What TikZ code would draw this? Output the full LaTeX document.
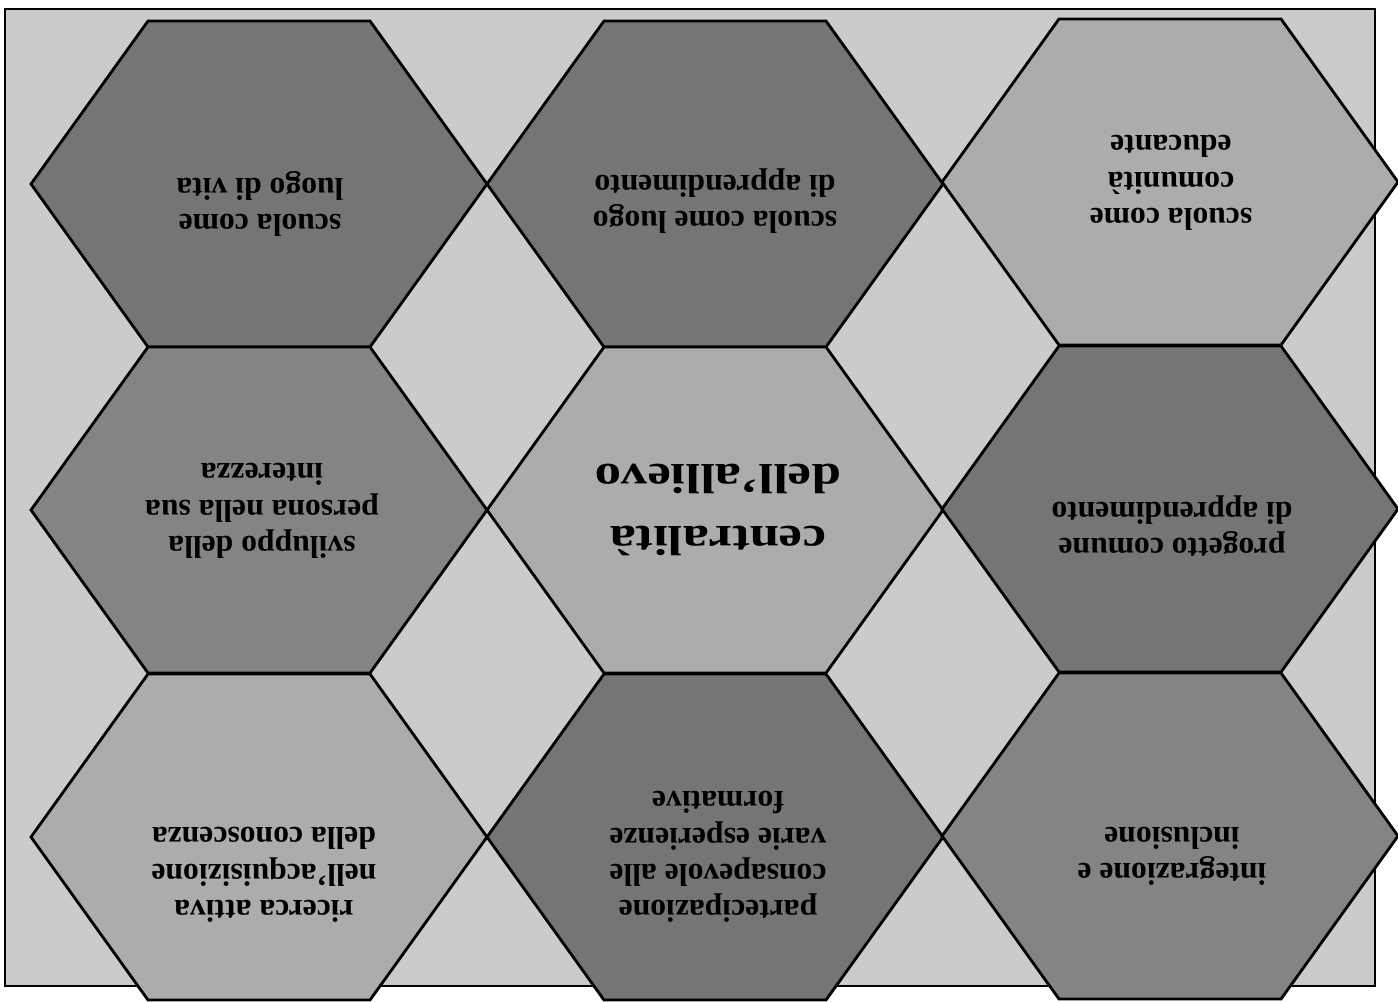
\documentclass[tikz,border=0pt]{standalone}
\usepackage{fontspec}
\setmainfont{Liberation Serif}
\usepackage{tikz}

\definecolor{sfondo}{RGB}{203,203,203}
\definecolor{chiaro}{RGB}{172,172,172}
\definecolor{medio}{RGB}{132,132,132}
\definecolor{scuro}{RGB}{117,117,117}

\begin{document}
\begin{tikzpicture}[x=0.2mm,y=-0.2mm,
  esagono/.style={draw=black,line width=1.6pt,line join=miter},
  testo/.style={rotate=180,align=center,inner sep=0pt,
    font=\bfseries\fontsize{18}{20.7}\selectfont},
  titolo/.style={rotate=180,yscale=0.8,align=center,inner sep=0pt,
    font=\bfseries\fontsize{30}{44}\selectfont}]

\useasboundingbox (0,0) rectangle (1398,1002);
\fill[white] (0,0) rectangle (1398,1002);
\draw[fill=sfondo,line width=1.1pt] (5,9) rectangle (1375,986);

% the nine hexagons
\foreach \cx/\cy/\col in {259/184/scuro, 715/184/scuro, 1170/182/chiaro,
                          259/510/medio, 715/510/chiaro, 1170/509/scuro,
                          259/837/chiaro, 715/837/scuro, 1170/836/medio}
  \draw[esagono,fill=\col] (\cx-228,\cy) -- (\cx-111,\cy-163) -- (\cx+111,\cy-163)
    -- (\cx+228,\cy) -- (\cx+111,\cy+163) -- (\cx-111,\cy+163) -- cycle;

\node[testo] (vita) at (260,204) {scuola come\\luogo di vita};
\node[testo] (luogo) at (715,201) {scuola come luogo\\di apprendimento};
\node[testo] (comunita) at (1171,183) {scuola come\\comunità\\educante};

\node[testo] (persona) at (262,511) {sviluppo della\\persona nella sua\\interezza};
\node[titolo] (centro) at (718,510) {centralità\\dell’allievo};
\node[testo] (progetto) at (1172,526) {progetto comune\\di apprendimento};

\node[testo] (ricerca) at (264,875) {ricerca attiva\\nell’acquisizione\\della conoscenza};
\node[testo] (partecipa) at (718,857) {partecipazione\\consapevole alle\\varie esperienze\\formative};
\node[testo] (inclusione) at (1172,856) {integrazione e\\inclusione};
\end{tikzpicture}
\end{document}
